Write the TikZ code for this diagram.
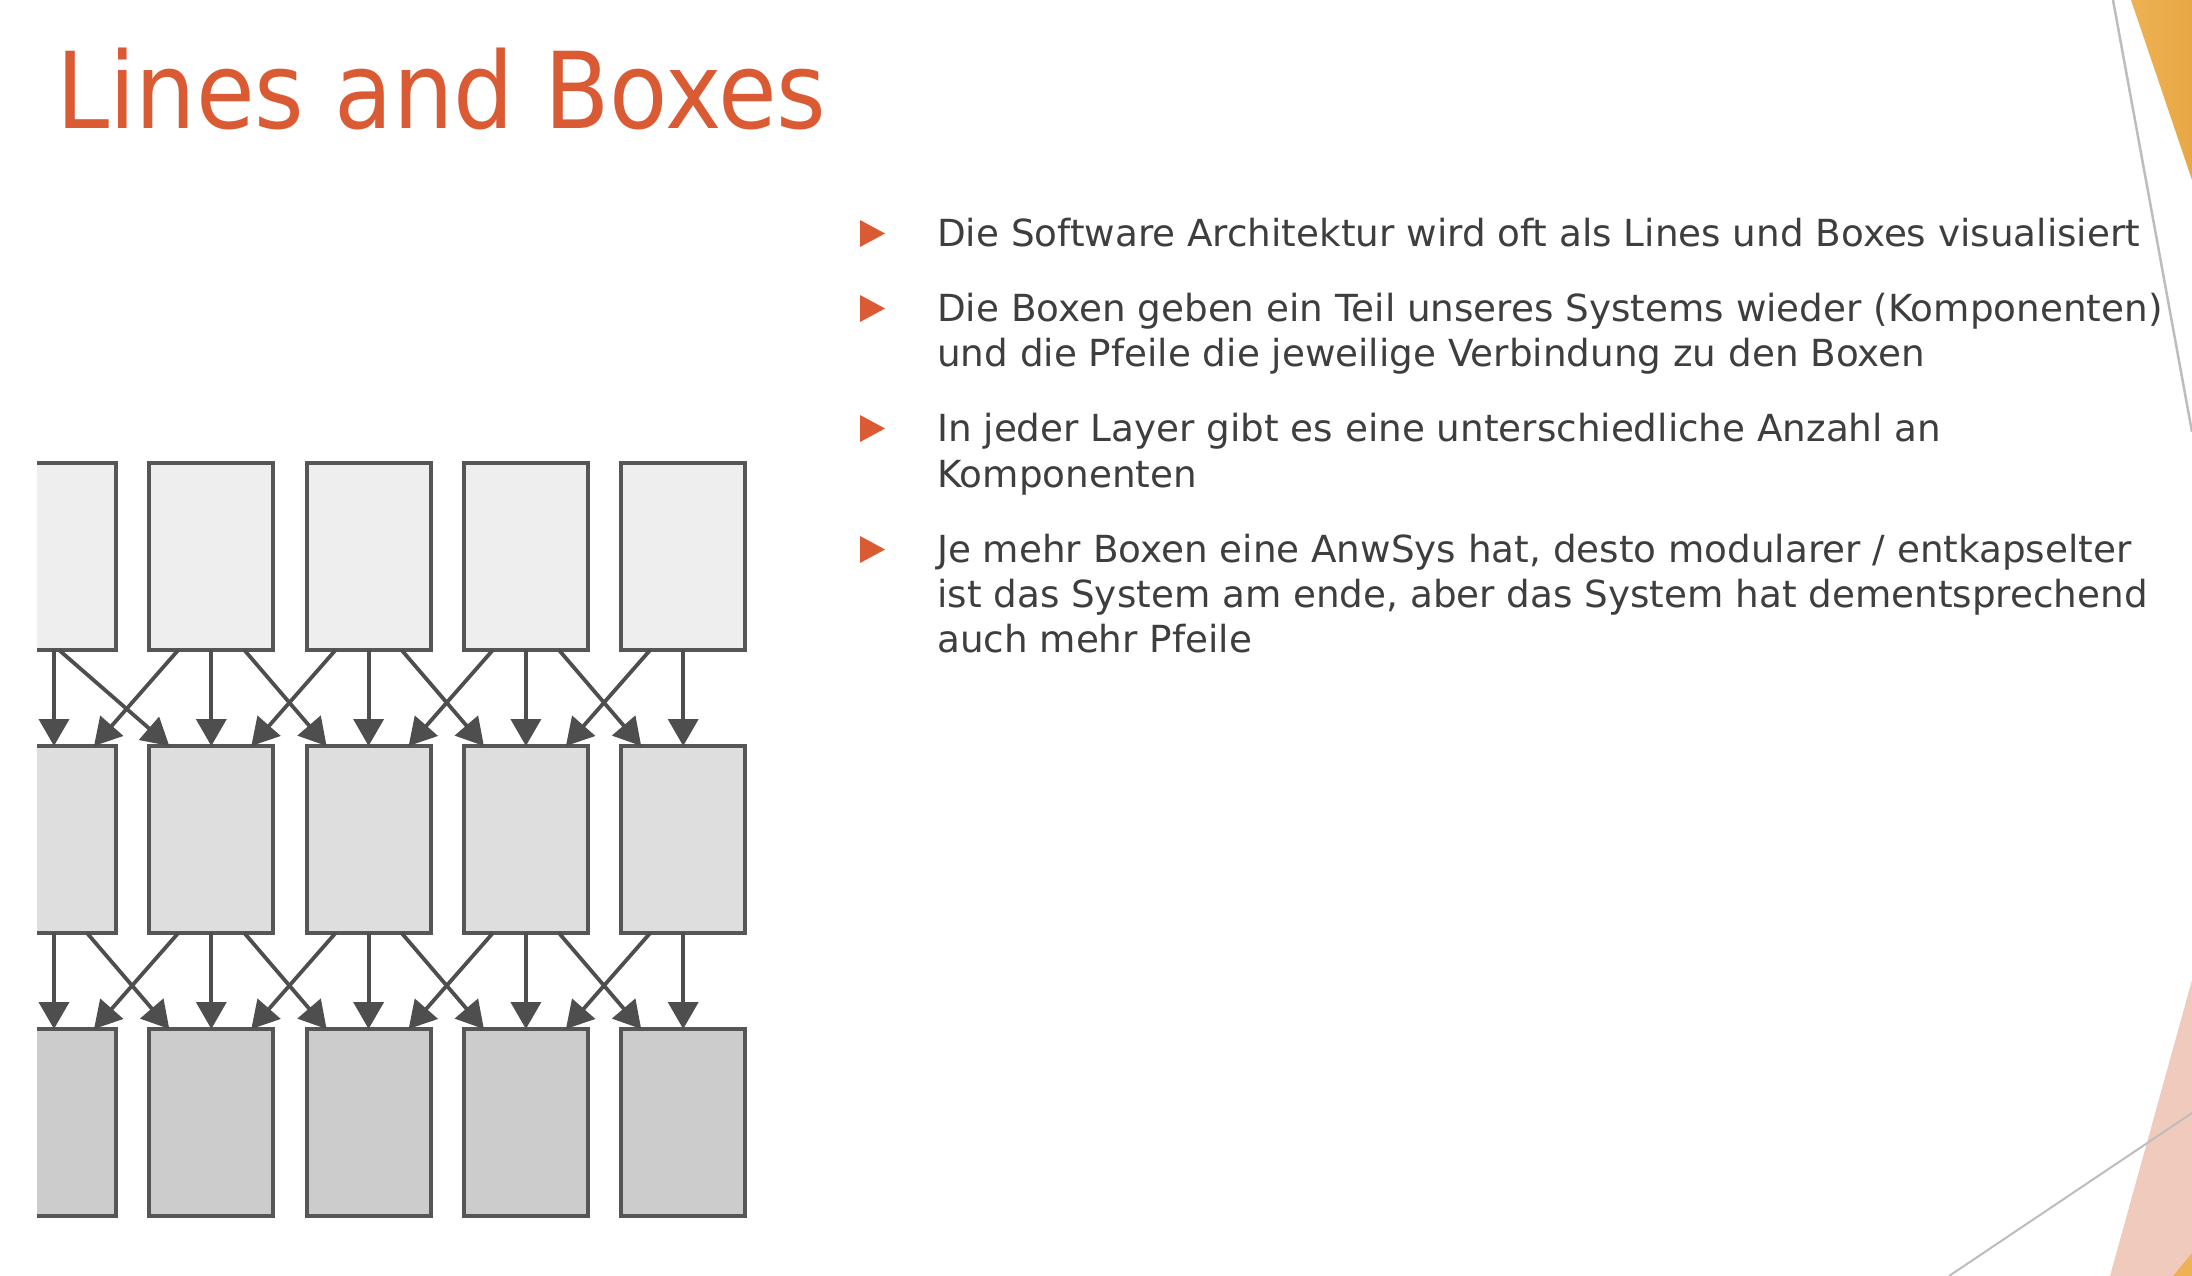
\documentclass[tikz,border=0pt]{standalone}
\usepackage{fontspec}
\newfontfamily\titlefont{DejaVu Sans Condensed}
\newfontfamily\slidefont{DejaVu Sans}
\usetikzlibrary{arrows.meta,fadings}

\definecolor{titlered}{HTML}{DA5B33}
\definecolor{bodygray}{HTML}{3E3E3E}
\definecolor{edgegray}{HTML}{565656}
\definecolor{arrowgray}{HTML}{4E4E4E}
\definecolor{fillA}{HTML}{EEEEEF}
\definecolor{fillB}{HTML}{DEDEDF}
\definecolor{fillC}{HTML}{CDCCCD}
\definecolor{accentyellow}{HTML}{EDB255}
\definecolor{accentyellowdark}{HTML}{E8A744}
\definecolor{accentpink}{HTML}{F1CABE}
\definecolor{thinline}{HTML}{BDBDBD}

\tikzfading[name=edgefade, top color=transparent!100, middle color=transparent!0, bottom color=transparent!100]

\newcommand\bulletmark[1]{\fill[titlered] (860,{#1-26}) -- (885,{#1-12.5}) -- (860,{#1+1}) -- cycle;}

\begin{document}
\begin{tikzpicture}[x=1pt,y=-1pt,
  comp/.style={draw=edgegray, line width=4pt, minimum width=124pt,
    minimum height=187pt, inner sep=0pt, outer sep=0pt},
  link/.style={draw=arrowgray, line width=3.8pt,
    -{Triangle[length=27pt,width=30pt]}},
  slidetitle/.style={font=\titlefont\fontsize{106}{120}\selectfont,
    text=titlered, anchor=base west, inner sep=0pt},
  bodytext/.style={font=\slidefont\fontsize{37.3}{44}\selectfont,
    text=bodygray, anchor=base west, inner sep=0pt}]

% page
\fill[white] (0,0) rectangle (2192,1276);
\useasboundingbox (0,0) rectangle (2192,1276);

% soft shadow along the right edge
\shade[left color=white, right color=black!12, path fading=edgefade]
  (2135,420) rectangle (2192,1010);

% decorative corner shapes
\shade[left color=accentyellow, right color=accentyellowdark]
  (2131,0) -- (2192,0) -- (2192,180) -- cycle;
\draw[thinline, line width=2.5pt] (2113,0) -- (2192,432);
\fill[accentpink] (2192,980) -- (2110,1276) -- (2192,1276) -- cycle;
\fill[accentyellow] (2173,1276) -- (2192,1253) -- (2192,1276) -- cycle;
\draw[thinline, line width=2pt] (1949,1276) -- (2192,1113);

% title
\node[slidetitle] (title) at (56,129) {Lines and Boxes};

% bullet list
\bulletmark{246}
\bulletmark{321}
\bulletmark{441}
\bulletmark{562}
\node[bodytext] (b1a) at (937,246) {Die Software Architektur wird oft als Lines und Boxes visualisiert};
\node[bodytext] (b2a) at (937,321) {Die Boxen geben ein Teil unseres Systems wieder (Komponenten)};
\node[bodytext] (b2b) at (937,366) {und die Pfeile die jeweilige Verbindung zu den Boxen};
\node[bodytext] (b3a) at (937,441) {In jeder Layer gibt es eine unterschiedliche Anzahl an};
\node[bodytext] (b3b) at (937,487) {Komponenten};
\node[bodytext] (b4a) at (937,562) {Je mehr Boxen eine AnwSys hat, desto modularer / entkapselter};
\node[bodytext] (b4b) at (937,607) {ist das System am ende, aber das System hat dementsprechend};
\node[bodytext] (b4c) at (937,652) {auch mehr Pfeile};

% layered components
\begin{scope}
  \clip (37,0) rectangle (800,1276);
  \foreach \c in {1,...,5} {
    \pgfmathsetmacro\cx{54+157.3*(\c-1)}
    \node[comp, fill=fillA] (r1-\c) at (\cx,556.5) {};
    \node[comp, fill=fillB] (r2-\c) at (\cx,839.5) {};
    \node[comp, fill=fillC] (r3-\c) at (\cx,1122.5) {};
  }
  \foreach \r/\s in {1/2,2/3} {
    \foreach \c in {1,...,5} {
      \draw[link] (r\r-\c.south) -- (r\s-\c.north);
    }
    \foreach \c/\d in {1/2,2/3,3/4,4/5} {
      \pgfmathsetmacro\st{(\r==1 && \c==1) ? 5 : 33}
      \draw[link] ([xshift=\st pt]r\r-\c.south) -- ([xshift=-42pt]r\s-\d.north);
      \draw[link] ([xshift=-33pt]r\r-\d.south) -- ([xshift=40pt]r\s-\c.north);
    }
  }
\end{scope}
\end{tikzpicture}
\end{document}
